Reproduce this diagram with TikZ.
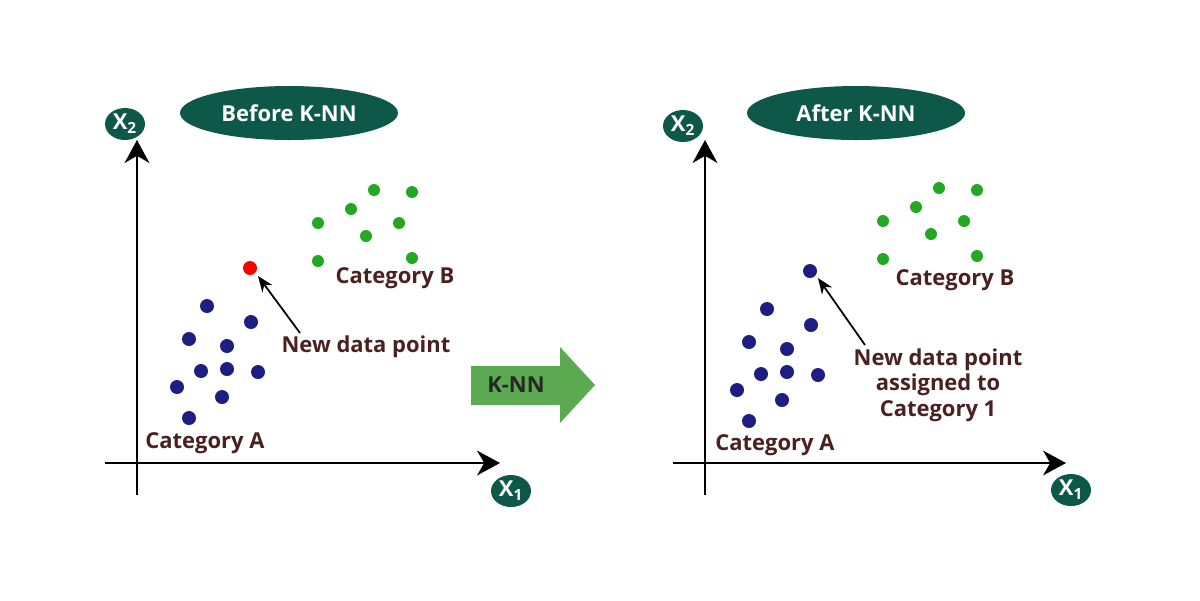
\documentclass[tikz,border=0pt]{standalone}
\usepackage{fontspec}
\setmainfont{Open Sans}
\usetikzlibrary{arrows.meta}
\definecolor{dg}{HTML}{0D5848}
\definecolor{txt}{HTML}{4A2020}
\definecolor{bl}{HTML}{1E1E82}
\definecolor{gr}{HTML}{22A822}
\definecolor{ag}{HTML}{5BAA52}
\begin{document}
\begin{tikzpicture}[x=0.02cm,y=-0.02cm,
  lbl/.style={font=\fontsize{12.5}{14.5}\selectfont\bfseries,text=txt,align=center},
  ovtxt/.style={text=white,font=\fontsize{12.5}{14}\selectfont\bfseries},
  axis/.style={line width=1.6pt,-{Stealth[width=14pt,length=13pt,inset=4pt]}}]
\useasboundingbox (0,0) rectangle (1200,600);
% left panel
\coordinate (ly0) at (137,495); \coordinate (ly1) at (137,140);
\coordinate (lx0) at (105,463); \coordinate (lx1) at (500,463);
\draw[axis] (ly0) -- (ly1);
\draw[axis] (lx0) -- (lx1);
\path[fill=dg] (125,124) ellipse [x radius=20,y radius=16];
\node[ovtxt] (lX2) at (125,124) {X\textsubscript{2}};
\path[fill=dg] (511,491) ellipse [x radius=20,y radius=16];
\node[ovtxt] (lX1) at (511,491) {X\textsubscript{1}};
\path[fill=dg] (289,113) ellipse [x radius=109,y radius=27];
\node[ovtxt] (before) at (289,113) {Before K-NN};
\foreach \x/\y in {207/306,251/322,189/339,227/346,201/371,227/369,258/372,177/387,222/397,189/418}
  \fill[bl] (\x,\y) circle (7);
\foreach \x/\y in {374/190,412/192,351/209,399/223,318/223,366/236,318/261,412/258}
  \fill[gr] (\x,\y) circle (6);
\fill[red] (250,268) circle (7);
\node[lbl] (lcatB) at (395,278) {Category B};
\node[lbl] (lcatA) at (205,443) {Category A};
\node[lbl] (ltxt) at (366,347) {New data point};
\coordinate (la0) at (300,333); \coordinate (la1) at (258,276);
\draw[line width=1pt,-{Stealth[length=9pt,width=7pt]}] (la0) -- (la1);
% middle arrow
\fill[ag] (471,366) -- (560,366) -- (560,347) -- (595,385) -- (560,423) -- (560,405) -- (471,405) -- cycle;
\node[font=\fontsize{12.5}{14}\selectfont\bfseries,text=black!85] (knn) at (516,385) {K-NN};
% right panel
\coordinate (ry0) at (705,495); \coordinate (ry1) at (705,140);
\coordinate (rx0) at (673,463); \coordinate (rx1) at (1066,463);
\draw[axis] (ry0) -- (ry1);
\draw[axis] (rx0) -- (rx1);
\path[fill=dg] (683,126) ellipse [x radius=20,y radius=16];
\node[ovtxt] (rX2) at (683,126) {X\textsubscript{2}};
\path[fill=dg] (1071,490) ellipse [x radius=20,y radius=16];
\node[ovtxt] (rX1) at (1071,490) {X\textsubscript{1}};
\path[fill=dg] (856,113) ellipse [x radius=109,y radius=27];
\node[ovtxt] (after) at (856,113) {After K-NN};
\begin{scope}[shift={(560,3)}]
\foreach \x/\y in {207/306,251/322,189/339,227/346,201/371,227/369,258/372,177/387,222/397,189/418}
  \fill[bl] (\x,\y) circle (7);
\end{scope}
\begin{scope}[shift={(565,-2)}]
\foreach \x/\y in {374/190,412/192,351/209,399/223,318/223,366/236,318/261,412/258}
  \fill[gr] (\x,\y) circle (6);
\end{scope}
\fill[bl] (810,271) circle (7);
\node[lbl] (rcatB) at (955,280) {Category B};
\node[lbl] (rcatA) at (775,445) {Category A};
\node[lbl] (rtxt) at (938,385) {New data point\\assigned to\\Category 1};
\coordinate (ra0) at (865,345); \coordinate (ra1) at (818,278);
\draw[line width=1pt,-{Stealth[length=9pt,width=7pt]}] (ra0) -- (ra1);
\end{tikzpicture}
\end{document}
